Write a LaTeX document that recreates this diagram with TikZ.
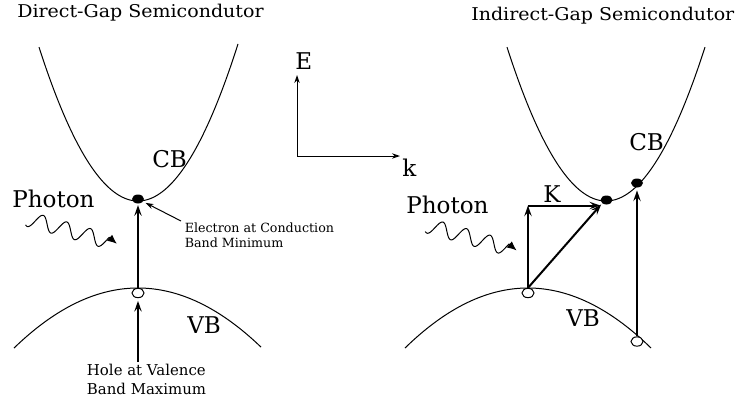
\documentclass[tikz,border=0pt]{standalone}
\usepackage{fontspec}
\setmainfont{DejaVu Serif}
\usetikzlibrary{arrows.meta,shapes.geometric}
\begin{document}
\begin{tikzpicture}[x=0.75pt,y=-0.75pt,
  band/.style={line width=0.75pt},
  biglbl/.style={font=\fontsize{17.3}{19}\selectfont, inner sep=0pt, anchor=base west},
  ttl/.style={font=\fontsize{13.2}{15}\selectfont, inner sep=0pt, anchor=base west, xscale=1.08, transform shape},
  smalllbl/.style={font=\fontsize{9.5}{11}\selectfont, inner sep=0pt, anchor=base west},
  holelbl/.style={font=\fontsize{11.2}{13}\selectfont, inner sep=0pt, anchor=base west},
  edot/.style={ellipse, fill=black, minimum width=9pt, minimum height=6.75pt, inner sep=0pt},
  hdot/.style={ellipse, draw, fill=white, line width=0.75pt, minimum width=9pt, minimum height=7pt, inner sep=0pt},
  bigarrow/.style={line width=1.5pt, -{Stealth[length=8pt,width=5.5pt,inset=3pt]}},
  thinarrow/.style={line width=0.75pt, -{Stealth[length=6pt,width=4pt,inset=2pt]}},
  wavearrow/.style={line width=0.75pt, -{Latex[length=7pt,width=6pt]}}
]
\useasboundingbox (0,0) rectangle (738,400);

% ---------- titles ----------
\node[ttl] (t1) at (17,17.5) {Direct-Gap Semicondutor};
\node[ttl] (t2) at (471,20) {Indirect-Gap Semicondutor};

% ---------- left: direct gap ----------
\draw[band] plot[domain=39:238, samples=80] (\x, {201-0.0157*(\x-138)*(\x-138)});
\draw[band] plot[domain=14:261, samples=80] (\x, {288+0.0039*(\x-138)*(\x-138)});

\node[edot] (e1) at (138,199) {};
\node[hdot] (h1) at (138,293) {};

\node[biglbl] (cb1) at (152,167) {CB};
\node[biglbl] (vb1) at (187,333) {VB};
\node[biglbl] (ph1) at (12,207) {Photon};

\node[smalllbl] (el1) at (184.5,232.7) {Electron at Conduction};
\node[smalllbl] (el2) at (184.5,247.3) {Band Minimum};
\node[holelbl] (hl1) at (86.7,375.7) {Hole at Valence};
\node[holelbl] (hl2) at (86.7,394) {Band Maximum};

\draw[bigarrow, shorten >=1pt] (h1.north) -- (e1.south);
\coordinate (hb) at (138,362);
\draw[bigarrow, shorten >=2pt] (hb) -- (h1.south);
\coordinate (ep) at (181,221);
\draw[thinarrow, shorten >=2pt] (ep) -- (e1);

\begin{scope}[shift={(27.3,218.7)}, rotate=-15.6]
  \draw[wavearrow] plot[domain=0:84, samples=120, smooth] (\x, {-7.5*sin((\x-8.3)*14.6939)}) -- (93,0);
\end{scope}

% ---------- axes ----------
\coordinate (O) at (297,156);
\coordinate (Etip) at (297,75);
\coordinate (ktip) at (400,156);
\draw[thinarrow] (O) -- (Etip);
\draw[thinarrow] (O) -- (ktip);
\node[biglbl] (E) at (295,69) {E};
\node[biglbl] (k) at (402,176) {k};

% ---------- right: indirect gap ----------
\draw[band] plot[domain=507:705, samples=80] (\x, {201-0.0157*(\x-606)*(\x-606)});
\draw[band] plot[domain=405:651, samples=80] (\x, {288+0.00397*(\x-528)*(\x-528)});

\node[edot] (e2) at (606.5,200) {};
\node[edot] (e3) at (637,183) {};
\node[hdot] (h2) at (528,293) {};
\node[hdot] (h3) at (637,341.5) {};

\node[biglbl] (cb2) at (629,150) {CB};
\node[biglbl] (vb2) at (566,326) {VB};
\node[biglbl] (ph2) at (406,213) {Photon};
\node[biglbl] (K) at (543,202) {K};

\coordinate (c) at (528,205.5);
\draw[bigarrow] (h2.north) -- (c);
\draw[bigarrow] (c) -- (c -| e2.west);
\draw[bigarrow, shorten >=1pt] (h2.north) -- (e2.south west);
\draw[bigarrow, shorten >=2pt] (h3.north) -- (e3.south);

\begin{scope}[shift={(427,225.4)}, rotate=-15.6]
  \draw[wavearrow] plot[domain=0:84, samples=120, smooth] (\x, {-7.5*sin((\x-8.3)*14.6939)}) -- (93,0);
\end{scope}

\end{tikzpicture}
\end{document}
